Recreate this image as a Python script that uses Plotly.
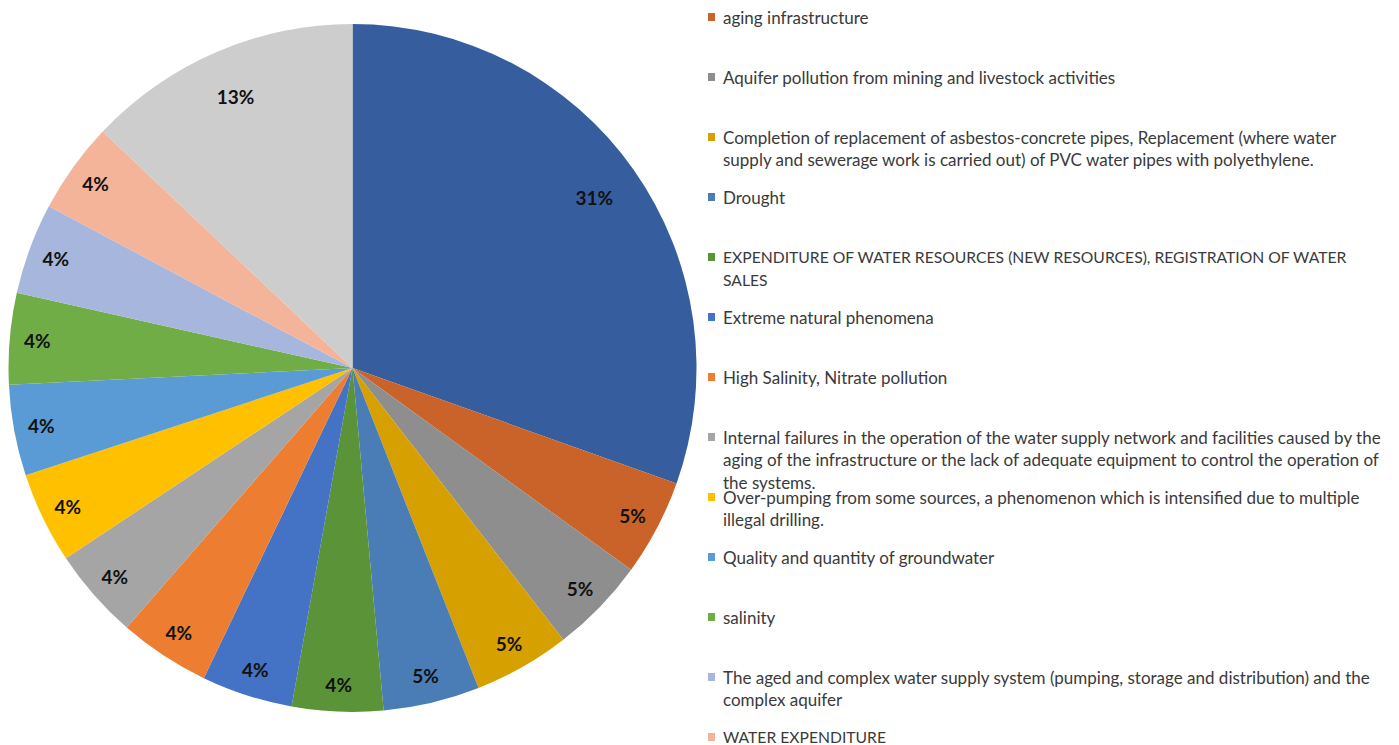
import plotly.graph_objects as go

# Pie slices, clockwise from 12 o'clock (sizes)
shares = [30.6, 4.55, 4.55, 4.55, 4.55, 4.3, 4.3, 4.3, 4.3, 4.3, 4.3, 4.3, 4.3, 4.3, 13]
# percentages as printed on the slices
pct_labels = ["31%", "5%", "5%", "5%", "5%", "4%", "4%", "4%", "4%", "4%",
              "4%", "4%", "4%", "4%", "13%"]

slice_colors = ["#365E9F", "#C9632A", "#8E8E8E", "#D6A100", "#4A7DB6",
                "#5B9338", "#4472C4", "#ED7D31", "#A5A5A5", "#FFC000",
                "#5B9BD5", "#70AD47", "#A6B6DD", "#F4B49A", "#CDCDCD"]

# legend entries visible in the picture (first and last slice are cut off)
causes = [
    "aging infrastructure",
    "Aquifer pollution from mining and livestock activities",
    "Completion of replacement of asbestos-concrete pipes, Replacement (where water\nsupply and sewerage work is carried out) of PVC water pipes with polyethylene.",
    "Drought",
    "EXPENDITURE OF WATER RESOURCES (NEW RESOURCES), REGISTRATION OF WATER\nSALES",
    "Extreme natural phenomena",
    "High Salinity, Nitrate pollution",
    "Internal failures in the operation of the water supply network and facilities caused by the\naging of the infrastructure or the lack of adequate equipment to control the operation of\nthe systems.",
    "Over-pumping from some sources, a phenomenon which is intensified due to multiple\nillegal drilling.",
    "Quality and quantity of groundwater",
    "salinity",
    "The aged and complex water supply system (pumping, storage and distribution) and the\ncomplex aquifer",
    "WATER EXPENDITURE",
]

slice_names = ["(not listed, top)"] + [c.replace("\n", " ") for c in causes] + ["(not listed, bottom)"]

W, H = 1399, 745
OFF = 8  # page body margin
dom_x = [0, 689 / W]
dom_y = [1 - (712 - OFF) / H, 1 - (24 - OFF) / H]

fig = go.Figure()
fig.add_trace(go.Pie(
    labels=slice_names, values=shares, sort=False, direction="clockwise",
    marker=dict(colors=slice_colors, line=dict(width=0)),
    textinfo="none", domain=dict(x=dom_x, y=dom_y), showlegend=False,
))

# transparent rings carrying the percentage labels (small slices sit closer to the rim)
big = [s > 10 for s in shares]
for hole, show in [(0.84, [not b for b in big]), (0.72, big)]:
    fig.add_trace(go.Pie(
        labels=slice_names, values=shares, sort=False, direction="clockwise",
        hole=hole, marker=dict(colors=["rgba(0,0,0,0)"] * len(shares), line=dict(width=0)),
        text=[p if s else "" for p, s in zip(pct_labels, show)],
        texttemplate="<b>%{text}</b>", textposition="inside",
        insidetextorientation="horizontal",
        textfont=dict(family="Lato", size=19, color="#111111"),
        domain=dict(x=dom_x, y=dom_y), showlegend=False, hoverinfo="skip",
    ))

# hand-made legend to mimic the cropped Excel legend
annotations = []
shapes = []
for i, text in enumerate(causes):
    yc = 17 - OFF + 60 * i
    col = slice_colors[i + 1]
    shapes.append(dict(type="rect", xref="paper", yref="paper",
                       x0=(708 - OFF) / W, x1=(715 - OFF) / W,
                       y0=1 - (yc + 4) / H, y1=1 - (yc - 4) / H,
                       fillcolor=col, line=dict(width=0)))
    for j, line in enumerate(text.split("\n")):
        size = 15.7 if line.isupper() else 17
        annotations.append(dict(text=line, xref="paper", yref="paper",
                                x=(721 - OFF) / W, y=1 - (yc + 22.5 * j) / H,
                                xanchor="left", yanchor="middle", showarrow=False,
                                font=dict(family="Lato", size=size, color="#3A3A3A")))

fig.update_layout(width=W, height=H, margin=dict(l=0, r=0, t=0, b=0),
                  paper_bgcolor="white", plot_bgcolor="white",
                  annotations=annotations, shapes=shapes)

fig.write_html("out.html")
